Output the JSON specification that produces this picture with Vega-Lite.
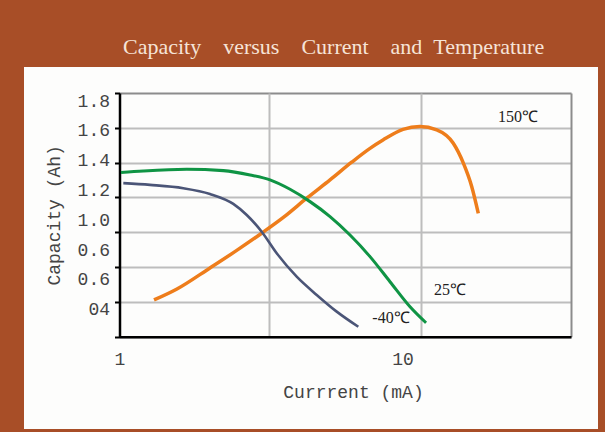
{
  "$schema": "https://vega.github.io/schema/vega-lite/v6.json",
  "width": 574,
  "height": 362,
  "autosize": {"type": "none"},
  "padding": {"left": 24, "top": 67, "right": 7, "bottom": 3},
  "background": "#a84e27",
  "title": {
    "text": "Capacity\u00a0\u00a0\u00a0\u00a0versus\u00a0\u00a0\u00a0\u00a0Current\u00a0\u00a0\u00a0\u00a0and\u00a0\u00a0Temperature",
    "anchor": "start",
    "frame": "group",
    "dx": 99,
    "offset": -9,
    "baseline": "alphabetic",
    "font": "Liberation Serif",
    "fontSize": 22,
    "fontWeight": "normal",
    "color": "#f6e4d8"
  },
  "datasets": {
    "curves": [
      {"series": "150℃", "current": 1.302, "capacity": 0.611},
      {"series": "150℃", "current": 1.552, "capacity": 0.674},
      {"series": "150℃", "current": 1.998, "capacity": 0.795},
      {"series": "150℃", "current": 2.438, "capacity": 0.893},
      {"series": "150℃", "current": 2.975, "capacity": 0.996},
      {"series": "150℃", "current": 3.520, "capacity": 1.088},
      {"series": "150℃", "current": 4.197, "capacity": 1.197},
      {"series": "150℃", "current": 5.005, "capacity": 1.301},
      {"series": "150℃", "current": 5.922, "capacity": 1.404},
      {"series": "150℃", "current": 6.796, "capacity": 1.482},
      {"series": "150℃", "current": 7.505, "capacity": 1.530},
      {"series": "150℃", "current": 8.747, "capacity": 1.591},
      {"series": "150℃", "current": 9.95, "capacity": 1.607},
      {"series": "150℃", "current": 11.32, "capacity": 1.588},
      {"series": "150℃", "current": 12.85, "capacity": 1.511},
      {"series": "150℃", "current": 13.88, "capacity": 1.397},
      {"series": "150℃", "current": 14.80, "capacity": 1.262},
      {"series": "150℃", "current": 15.56, "capacity": 1.109},
      {"series": "25℃", "current": 1.0115, "capacity": 1.343},
      {"series": "25℃", "current": 1.200, "capacity": 1.352},
      {"series": "25℃", "current": 1.672, "capacity": 1.362},
      {"series": "25℃", "current": 2.213, "capacity": 1.354},
      {"series": "25℃", "current": 2.715, "capacity": 1.329},
      {"series": "25℃", "current": 3.162, "capacity": 1.301},
      {"series": "25℃", "current": 3.686, "capacity": 1.247},
      {"series": "25℃", "current": 4.295, "capacity": 1.176},
      {"series": "25℃", "current": 5.005, "capacity": 1.090},
      {"series": "25℃", "current": 5.832, "capacity": 0.984},
      {"series": "25℃", "current": 6.796, "capacity": 0.860},
      {"series": "25℃", "current": 7.918, "capacity": 0.716},
      {"series": "25℃", "current": 9.229, "capacity": 0.572},
      {"series": "25℃", "current": 10.43, "capacity": 0.480},
      {"series": "-40℃", "current": 1.0295, "capacity": 1.282},
      {"series": "-40℃", "current": 1.263, "capacity": 1.272},
      {"series": "-40℃", "current": 1.629, "capacity": 1.253},
      {"series": "-40℃", "current": 1.998, "capacity": 1.220},
      {"series": "-40℃", "current": 2.388, "capacity": 1.163},
      {"series": "-40℃", "current": 2.647, "capacity": 1.099},
      {"series": "-40℃", "current": 2.968, "capacity": 1.003},
      {"series": "-40℃", "current": 3.329, "capacity": 0.879},
      {"series": "-40℃", "current": 3.879, "capacity": 0.745},
      {"series": "-40℃", "current": 4.521, "capacity": 0.640},
      {"series": "-40℃", "current": 5.268, "capacity": 0.544},
      {"series": "-40℃", "current": 6.214, "capacity": 0.457}
    ],
    "labels": [
      {"label": "150℃", "current": 21.08, "capacity": 1.663},
      {"label": "25℃", "current": 12.53, "capacity": 0.668},
      {"label": "-40℃", "current": 7.98, "capacity": 0.507}
    ]
  },
  "encoding": {
    "x": {
      "field": "current",
      "type": "quantitative",
      "scale": {"type": "log", "domain": [1, 31.62], "range": [95.5, 547], "nice": false, "zero": false},
      "axis": {
        "title": "Currrent (mA)",
        "offset": -92.3,
        "values": [1, 3.14, 10, 31.62],
        "labelExpr": "datum.value == 1 ? '1' : (datum.value == 10 ? '10' : '')",
        "labelOffset": {"expr": "datum.value == 10 ? -18 : 0"},
        "labelFont": "Liberation Mono",
        "labelFontSize": 18,
        "labelColor": "#444444",
        "labelPadding": 257.7,
        "labelFlush": false,
        "labelOverlap": false,
        "domainColor": "#000000",
        "domainWidth": 2.5,
        "ticks": true,
        "tickSize": -243.7,
        "tickColor": {"condition": {"test": "datum.value > 30", "value": "#8c8c8c"}, "value": "#bdbdbd"},
        "tickOpacity": {"condition": {"test": "datum.value < 1.5", "value": 0}, "value": 1},
        "tickWidth": 2,
        "grid": false,
        "titleFont": "Liberation Mono",
        "titleFontSize": 18,
        "titleFontWeight": "normal",
        "titleColor": "#444444",
        "titlePadding": 15,
        "titleX": 329
      }
    },
    "y": {
      "field": "capacity",
      "type": "quantitative",
      "scale": {"domain": [0.4, 1.8], "range": [269.7, 26], "nice": false, "zero": false},
      "axis": {
        "title": "Capacity (Ah)",
        "offset": -95.5,
        "values": [0.4, 0.6, 0.8, 1.0, 1.2, 1.4, 1.6, 1.8],
        "labelExpr": "datum.value < 0.5 ? '04' : (datum.value < 0.9 ? '0.6' : format(datum.value, '.1f'))",
        "labelOffset": {"expr": "8 - (1.8 - datum.value) * 25"},
        "labelFont": "Liberation Mono",
        "labelFontSize": 18,
        "labelColor": "#444444",
        "labelPadding": 5,
        "labelFlush": false,
        "labelOverlap": false,
        "domainColor": "#000000",
        "domainWidth": 2.5,
        "ticks": true,
        "tickSize": 5,
        "tickColor": "#000000",
        "tickWidth": 2,
        "grid": true,
        "gridColor": {"condition": {"test": "datum.value > 1.7", "value": "#8c8c8c"}, "value": "#bdbdbd"},
        "gridWidth": 2,
        "titleFont": "Liberation Mono",
        "titleFontSize": 18,
        "titleFontWeight": "normal",
        "titleColor": "#444444",
        "titlePadding": 14
      }
    }
  },
  "layer": [
    {
      "data": {"name": "curves"},
      "mark": {"type": "line", "interpolate": "monotone", "clip": false},
      "encoding": {
        "color": {
          "field": "series",
          "type": "nominal",
          "scale": {"domain": ["150℃", "25℃", "-40℃"], "range": ["#ee7d1b", "#0f9444", "#4b5577"]},
          "legend": null
        },
        "strokeWidth": {
          "field": "series",
          "type": "nominal",
          "scale": {"domain": ["150℃", "25℃", "-40℃"], "range": [3.5, 2.6, 2.6]},
          "legend": null
        }
      }
    },
    {
      "data": {"name": "labels"},
      "mark": {"type": "text", "font": "Liberation Serif", "fontSize": 16, "color": "#222222", "align": "center", "baseline": "middle"},
      "encoding": {
        "text": {"field": "label", "type": "nominal"}
      }
    }
  ],
  "config": {
    "view": {"fill": "#fdfdfc", "stroke": null}
  }
}
